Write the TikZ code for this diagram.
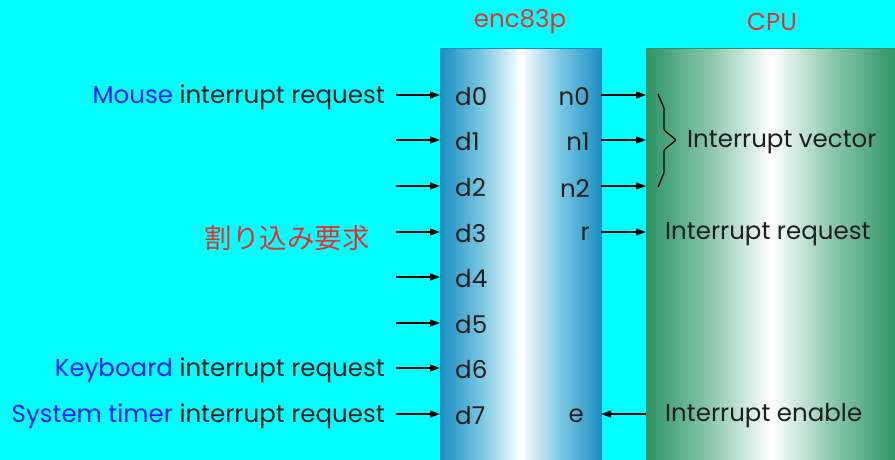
\documentclass[tikz,border=0pt]{standalone}
\usepackage{fontspec}
\setmainfont{Poppins}
\newfontfamily\jpfont{Noto Sans CJK JP}
\usetikzlibrary{arrows.meta}
\definecolor{bg}{HTML}{00FFFF}
\definecolor{ink}{HTML}{1E1E1E}
\definecolor{title}{HTML}{E8302E}
\definecolor{src}{HTML}{1A1AFF}
\definecolor{encedge}{HTML}{1A8EC2}
\definecolor{encmid}{HTML}{7CC8E2}
\definecolor{cpuedge}{HTML}{2E9466}
\definecolor{cpumid}{HTML}{8CC8AC}
% horizontal shadings: dark edges, white centre line
\pgfdeclarehorizontalshading{encshade}{100bp}{color(0bp)=(encedge); color(25bp)=(encedge); color(38bp)=(encmid); color(50bp)=(white); color(62bp)=(encmid); color(75bp)=(encedge); color(100bp)=(encedge)}
\pgfdeclarehorizontalshading{cpushade}{100bp}{color(0bp)=(cpuedge); color(25bp)=(cpuedge); color(38bp)=(cpumid); color(50bp)=(white); color(62bp)=(cpumid); color(75bp)=(cpuedge); color(100bp)=(cpuedge)}
\begin{document}
\begin{tikzpicture}[x=1pt,y=-1pt,
  lbl/.style={font=\fontsize{24.5}{29}\selectfont, text=ink, inner sep=0pt, yshift=-2pt},
  sig/.style={-{Triangle[length=10pt,width=7pt]}, line width=1.3pt, draw=black},
  block/.style={anchor=north west, inner sep=0pt, minimum height=412pt}]
\fill[bg] (0,0) rectangle (895,460);
\useasboundingbox (0,0) rectangle (895,460);

% blocks
\node[block, shading=encshade, draw=encedge, line width=0.8pt, minimum width=161pt] (enc) at (440,48) {};
\node[block, shading=cpushade, draw=cpuedge, line width=0.8pt, minimum width=250pt] (cpu) at (646,48) {};

% titles
\node[lbl, text=title] (enctitle) at (520,20) {enc83p};
\node[lbl, text=title] (cputitle) at (772,20) {CPU};

% input ports
\foreach \i/\y in {0/95,1/140,2/186,3/232,4/277,5/323,6/368,7/414}{
  \node[lbl, anchor=west] (d\i) at (455,\y) {d\i};
  \coordinate (in\i) at (396,\y);
  \draw[sig] (in\i) -- (enc.west |- in\i);
}

% output ports
\foreach \i/\t/\y in {0/n0/95,1/n1/140,2/n2/186,3/r/232}{
  \node[lbl, anchor=east] (o\i) at (590,\y) {\t};
  \coordinate (out\i) at (601,\y);
  \draw[sig] (out\i) -- (cpu.west |- out\i);
}
\node[lbl, anchor=east] (e) at (584,414) {e};
\coordinate (en) at (601,414);
\draw[sig] (cpu.west |- en) -- (en);

% sources
\node[lbl, anchor=east] (mouse) at (385,95) {\textcolor{src}{Mouse} interrupt request};
\node[lbl, anchor=east] (kbd) at (385,368) {\textcolor{src}{Keyboard} interrupt request};
\node[lbl, anchor=east] (timer) at (385,414) {\textcolor{src}{System timer} interrupt request};
\node[anchor=east, inner sep=0pt, text=title, font=\jpfont\fontsize{27.5}{33}\selectfont] (irq) at (370,238) {割り込み要求};

% CPU side
\draw[line width=1.3pt, rounded corners=1pt] (658,94) -- (664,108) -- (664,130) -- (676,140) -- (664,150) -- (664,173) -- (658,187);
\node[lbl, anchor=west] (vec) at (687,140) {Interrupt vector};
\node[lbl, anchor=west] (req) at (665,232) {Interrupt request};
\node[lbl, anchor=west] (ena) at (665,414) {Interrupt enable};
\end{tikzpicture}
\end{document}
